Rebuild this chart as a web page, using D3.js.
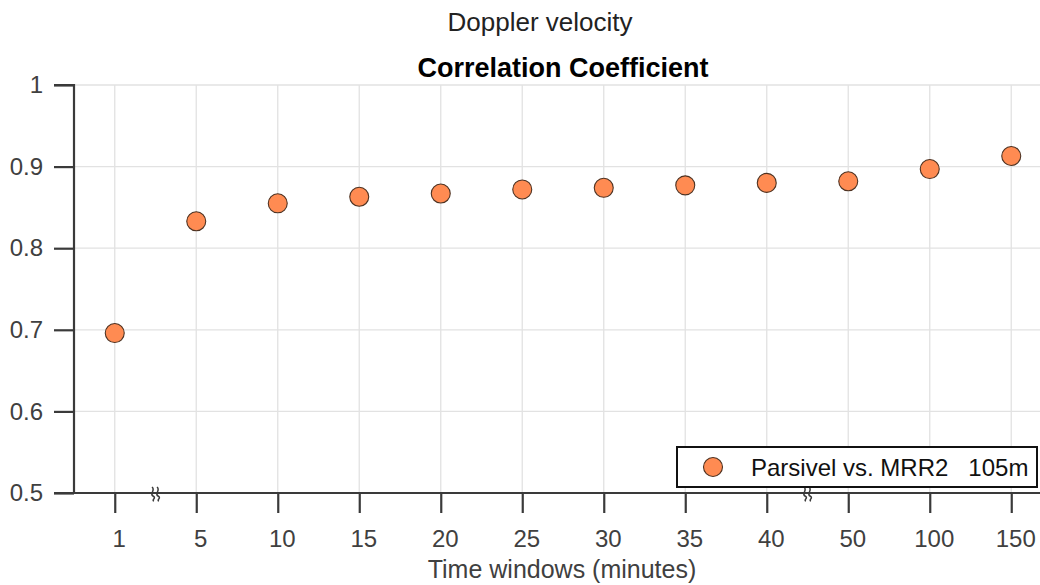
<!DOCTYPE html>
<html>
<head>
<meta charset="utf-8">
<script src="https://cdn.jsdelivr.net/npm/d3@7"></script>
<style>
  html, body { margin: 0; padding: 0; background: #fff; }
  svg { display: block; font-family: "Liberation Sans", Arial, Helvetica, sans-serif; }
</style>
</head>
<body>
<svg id="chart" width="1040" height="585"></svg>
<script>
// Time windows (minutes) shown as evenly spaced categories
const windows = ["1", "5", "10", "15", "20", "25", "30", "35", "40", "50", "100", "150"];
// Correlation coefficient, Parsivel vs. MRR2 at 105 m
const corr = [0.696, 0.833, 0.855, 0.863, 0.867, 0.872, 0.874, 0.877, 0.880, 0.882, 0.897, 0.913];
const yTicks = [0.5, 0.6, 0.7, 0.8, 0.9, 1];
// Axis breaks sit between these category pairs
const breaks = [[0, 1], [8, 9]];
const seriesName = "Parsivel vs. MRR2   105m";

const svg = d3.select("#chart");
const W = 1040, H = 585;
const m = { left: 74, right: 1052, top: 85, bottom: 493 };

const x = d3.scaleLinear().domain([-0.5, windows.length - 0.5]).range([m.left, m.right]);
const y = d3.scaleLinear().domain([0.5, 1]).range([m.bottom, m.top]);

const axisColor = "#3a3a3a";
const textColor = "#404040";

// Grid
const grid = svg.append("g");
grid.selectAll("line.v").data(windows).join("line").attr("class", "v")
  .attr("x1", (d, i) => x(i)).attr("x2", (d, i) => x(i))
  .attr("y1", m.top).attr("y2", m.bottom)
  .attr("stroke", "#e2e2e2").attr("stroke-width", 1.3);
grid.selectAll("line.h").data(yTicks).join("line").attr("class", "h")
  .attr("x1", m.left).attr("x2", W)
  .attr("y1", d => y(d)).attr("y2", d => y(d))
  .attr("stroke", "#e2e2e2").attr("stroke-width", 1.3);

// Y axis
const yAxis = d3.axisLeft(y).tickValues(yTicks).tickSize(20).tickPadding(11)
  .tickFormat(d => d === 1 ? "1" : d3.format(".1f")(d));
const gy = svg.append("g").attr("transform", `translate(${m.left},0)`).call(yAxis);
gy.select(".domain").attr("stroke", axisColor).attr("stroke-width", 2.2)
  .attr("d", `M-20,${m.top}H0V${m.bottom}`);
gy.selectAll(".tick line").attr("stroke", axisColor).attr("stroke-width", 2.2);
gy.selectAll(".tick text").attr("fill", textColor).style("font-size", "24px");

// X axis
const xAxis = d3.axisBottom(x).tickValues(d3.range(windows.length)).tickSize(20).tickPadding(17)
  .tickFormat(i => windows[i]);
const gx = svg.append("g").attr("transform", `translate(0,${m.bottom})`).call(xAxis);
gx.select(".domain").attr("stroke", axisColor).attr("stroke-width", 2.2)
  .attr("d", `M${m.left - 20},0H${W}`);
gx.selectAll(".tick line").attr("stroke", axisColor).attr("stroke-width", 2.2);
gx.selectAll(".tick text").attr("fill", textColor).attr("dx", 4).style("font-size", "24px");

// Axis break marks
const brk = svg.append("g");
breaks.forEach(([a, b]) => {
  const cx = (x(a) + x(b)) / 2;
  [-2.5, 2.5].forEach(off => {
    const px = cx + off;
    brk.append("path")
      .attr("d", `M${px - 1},${m.bottom - 6} C${px + 3},${m.bottom - 3} ${px - 4},${m.bottom + 1} ${px},${m.bottom + 3} S${px - 2},${m.bottom + 7} ${px + 1},${m.bottom + 8}`)
      .attr("fill", "none").attr("stroke", axisColor).attr("stroke-width", 1.5);
  });
});

// Points
svg.append("g").selectAll("circle").data(corr).join("circle")
  .attr("cx", (d, i) => x(i)).attr("cy", d => y(d)).attr("r", 9.5)
  .attr("fill", "#ff8b52").attr("stroke", "#4d3222").attr("stroke-width", 1.1);

// Legend
const lg = svg.append("g");
lg.append("rect").attr("x", 677).attr("y", 447).attr("width", 360).attr("height", 40)
  .attr("fill", "#fff").attr("stroke", "#111").attr("stroke-width", 2);
lg.append("circle").attr("cx", 713).attr("cy", 467).attr("r", 9.5)
  .attr("fill", "#ff8b52").attr("stroke", "#4d3222").attr("stroke-width", 1.1);
lg.append("text").attr("x", 751).attr("y", 476).attr("fill", "#111")
  .style("font-size", "24px").style("white-space", "pre")
  .text(seriesName);

// Titles
svg.append("text").attr("x", 540).attr("y", 31).attr("text-anchor", "middle")
  .attr("fill", "#222").style("font-size", "26px").text("Doppler velocity");
svg.append("text").attr("x", 563).attr("y", 77).attr("text-anchor", "middle")
  .attr("fill", "#000").style("font-size", "27px").style("font-weight", "bold")
  .text("Correlation Coefficient");
svg.append("text").attr("x", 562).attr("y", 578).attr("text-anchor", "middle")
  .attr("fill", textColor).style("font-size", "25px").text("Time windows (minutes)");
</script>
</body>
</html>
